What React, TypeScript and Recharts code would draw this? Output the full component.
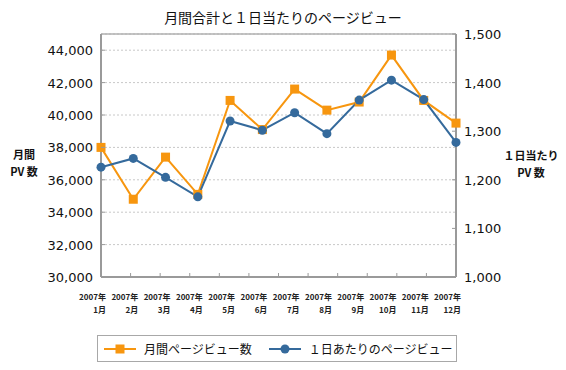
import { LineChart, Line, XAxis, YAxis, CartesianGrid, ReferenceLine } from 'recharts';

const months = ['1月', '2月', '3月', '4月', '5月', '6月', '7月', '8月', '9月', '10月', '11月', '12月'];
const monthlyPV = [38000, 34800, 37400, 35100, 40900, 39100, 41600, 40300, 40800, 43700, 40900, 39500];
const dailyPV = [1226, 1244, 1205, 1165, 1321, 1302, 1338, 1295, 1364, 1405, 1365, 1277];
const leftTicks = [30000, 32000, 34000, 36000, 38000, 40000, 42000, 44000];
const rightTicks = [1000, 1100, 1200, 1300, 1400, 1500];

const data = months.map((m, i) => ({ month: m, monthly: monthlyPV[i], daily: dailyPV[i] }));

const ORANGE = '#f7960f';
const BLUE = '#356a9c';
const AXIS = '#9a9a9a';
const NUM_FONT = '"DejaVu Sans", sans-serif';
const JP_FONT = '"Noto Sans CJK JP", sans-serif';

const PLOT_LEFT = 101;
const PLOT_W = 355;

const fmt = (v: number) => v.toLocaleString('en-US');

const LeftTick = (props: any) => {
  const { x, y, payload } = props;
  return (
    <g>
      <line x1={x + 8} x2={x + 12} y1={y} y2={y} stroke={AXIS} />
      <text x={x} y={y} dy={5} textAnchor="end" fontSize={13} fontFamily={NUM_FONT} fill="#111">
        {fmt(payload.value)}
      </text>
    </g>
  );
};

const RightTick = (props: any) => {
  const { x, y, payload } = props;
  return (
    <g>
      <line x1={x - 8} x2={x - 12} y1={y} y2={y} stroke={AXIS} />
      <text x={x} y={y} dy={5} textAnchor="start" fontSize={13} fontFamily={NUM_FONT} fill="#111">
        {fmt(payload.value)}
      </text>
    </g>
  );
};

// labels spread across the full axis width, tick marks sit on the band edges
const BottomTick = (props: any) => {
  const { x, y, payload, index } = props;
  const edge = PLOT_LEFT + (index * PLOT_W) / 12;
  const ex = x + 5;
  return (
    <g>
      {index > 0 && <line x1={edge} x2={edge} y1={y} y2={y - 4} stroke={AXIS} />}
      <text x={ex} y={y} textAnchor="end" fontSize={8} fontWeight="bold" fontFamily={JP_FONT} fill="#222">
        <tspan x={ex} dy={23}>2007年</tspan>
        <tspan x={ex} dy={13}>{payload.value}</tspan>
      </text>
    </g>
  );
};

const Square = (props: any) => {
  const { cx, cy } = props;
  if (cx == null || cy == null) return null;
  return <rect x={cx - 4.5} y={cy - 4.5} width={9} height={9} fill={ORANGE} />;
};

const labelStyle: React.CSSProperties = {
  position: 'absolute',
  fontFamily: JP_FONT,
  fontSize: 11,
  fontWeight: 'bold',
  color: '#111',
  textAlign: 'center',
  lineHeight: '17px',
};

export default function App() {
  return (
    <div style={{ position: 'absolute', left: 0, top: 0, width: 566, height: 370, background: '#fff' }}>
      <div
        style={{
          position: 'absolute',
          left: 0,
          top: 8,
          width: 566,
          textAlign: 'center',
          fontFamily: JP_FONT,
          fontSize: 14,
          color: '#111',
          lineHeight: '18px',
        }}
      >
        月間合計と１日当たりのページビュー
      </div>
      <div style={{ ...labelStyle, left: 0, top: 146, width: 48 }}>
        月間
        <br />
        PV 数
      </div>
      <div style={{ ...labelStyle, left: 500, top: 147, width: 62 }}>
        １日当たり
        <br />
        PV 数
      </div>

      <LineChart width={566} height={370} data={data} margin={{ top: 34, right: 50, left: 41, bottom: 53 }}>
        <CartesianGrid vertical={false} horizontal stroke="#c8c8c8" strokeDasharray="2 2" yAxisId="left" />
        <XAxis
          dataKey="month"
          tick={<BottomTick />}
          tickLine={false}
          tickSize={0}
          tickMargin={0}
          height={40}
          interval={0}
          axisLine={{ stroke: AXIS, strokeWidth: 2 }}
        />
        <YAxis
          yAxisId="left"
          domain={[30000, 45000]}
          ticks={leftTicks}
          width={60}
          tick={<LeftTick />}
          tickLine={false}
          tickSize={0}
          tickMargin={8}
          axisLine={{ stroke: AXIS, strokeWidth: 2 }}
          interval={0}
        />
        <YAxis
          yAxisId="right"
          orientation="right"
          domain={[1000, 1500]}
          ticks={rightTicks}
          width={60}
          tick={<RightTick />}
          tickLine={false}
          tickSize={0}
          tickMargin={8}
          axisLine={{ stroke: AXIS, strokeWidth: 2 }}
          interval={0}
        />
        <ReferenceLine yAxisId="left" y={45000} stroke="#b0b0b0" strokeWidth={1.5} />
        <Line
          yAxisId="left"
          type="linear"
          dataKey="monthly"
          stroke={ORANGE}
          strokeWidth={2}
          dot={<Square />}
          activeDot={false}
          isAnimationActive={false}
        />
        <Line
          yAxisId="right"
          type="linear"
          dataKey="daily"
          stroke={BLUE}
          strokeWidth={2}
          dot={{ r: 4.5, fill: BLUE, stroke: BLUE, strokeWidth: 0 }}
          activeDot={false}
          isAnimationActive={false}
        />
      </LineChart>

      <div
        style={{
          position: 'absolute',
          left: 97,
          top: 335,
          width: 358,
          height: 25,
          border: '1px solid #a8a8a8',
          display: 'flex',
          alignItems: 'center',
          fontFamily: JP_FONT,
          fontSize: 12,
          color: '#111',
        }}
      >
        <svg width={32} height={12} style={{ marginLeft: 6 }}>
          <line x1={0} x2={32} y1={6} y2={6} stroke={ORANGE} strokeWidth={2} />
          <rect x={11.5} y={1.5} width={9} height={9} fill={ORANGE} />
        </svg>
        <span style={{ marginLeft: 8 }}>月間ページビュー数</span>
        <svg width={32} height={12} style={{ marginLeft: 17 }}>
          <line x1={0} x2={32} y1={6} y2={6} stroke={BLUE} strokeWidth={2} />
          <circle cx={16} cy={6} r={4.5} fill={BLUE} />
        </svg>
        <span style={{ marginLeft: 8 }}>１日あたりのページビュー</span>
      </div>
    </div>
  );
}
